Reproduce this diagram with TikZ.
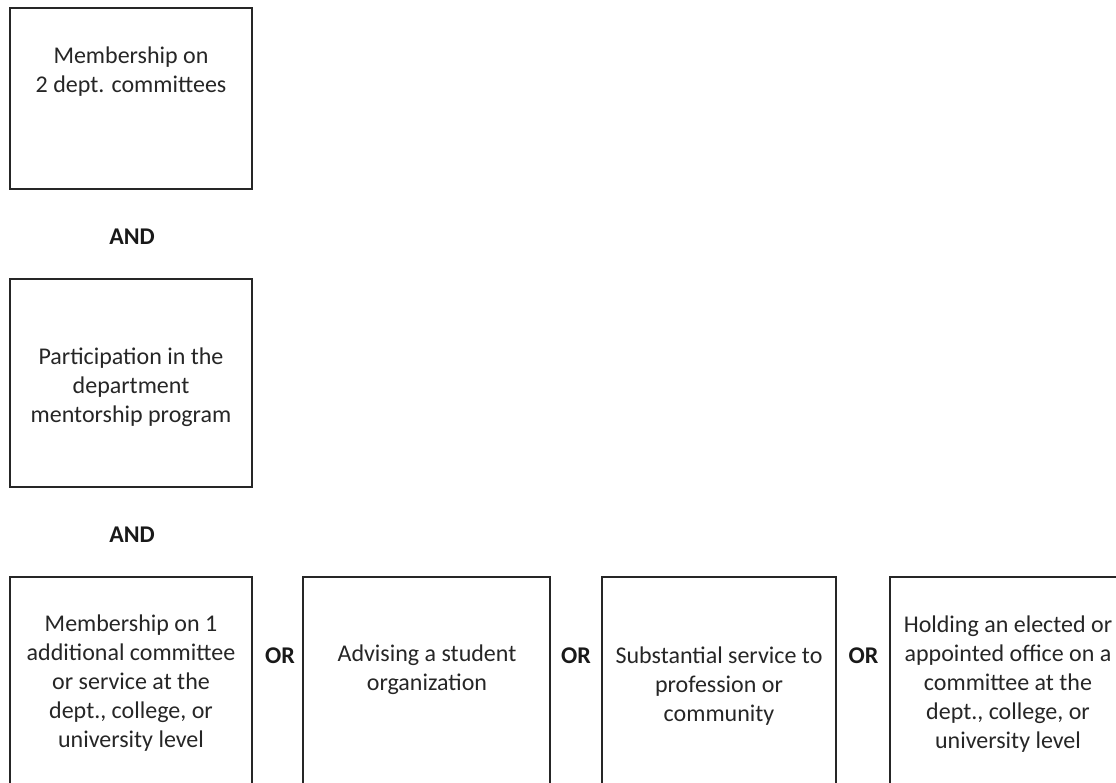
\documentclass[tikz,border=0pt]{standalone}
\usepackage{fontspec}
\setmainfont{Carlito}
\usetikzlibrary{positioning}

\begin{document}
\begin{tikzpicture}[x=1pt, y=-1pt, line width=1.5pt]
   \clip (0,0) rectangle (1116,783);
   \tikzset{box/.style={draw=black!85, inner sep=0pt, minimum width=242, minimum height=181},
            txt/.style={align=center, text=black!85, font=\fontsize{24}{29}\selectfont},
            conj/.style={text=black!90, font=\fontsize{24}{29}\selectfont\bfseries}}
   \begin{scope}[every node/.style={box}]
    \node (r1) at (131,98.5) {};
    \node (r2) [minimum height=208] at (131,383) {};
    \node (o1) [minimum height=223] at (131,688.5) {};
    \node (o2) [minimum height=223, minimum width=247] at (426.5,688.5) {};
    \node (o3) [minimum height=223, minimum width=234] at (719,688.5) {};
    \node (o4) [minimum height=223, minimum width=238] at (1009,688.5) {};
   \end{scope}
   \node (t1) [txt] at (131,71.5) {Membership on\\2 dept. committees};
   \node (t2) [txt] at (131,387) {Participation in the\\department\\mentorship program};
   \node (u1) [txt] at (131,683) {Membership on 1\\additional committee\\or service at the\\dept., college, or\\university level};
   \node (u2) [txt] at (427,670) {Advising a student\\organization};
   \node (u3) [txt] at (719,686) {Substantial service to\\profession or\\community};
   \node (u4) [txt] at (1008,684) {Holding an elected or\\appointed office on a\\committee at the\\dept., college, or\\university level};
   \node (and1) [conj] at (132,237) {AND};
   \node (and2) [conj] at (132,535) {AND};
   \node (or1) [conj] at (280,656) {OR};
   \node (or2) [conj] at (576,656) {OR};
   \node (or3) [conj] at (863.5,656) {OR};
\end{tikzpicture}
\end{document}
